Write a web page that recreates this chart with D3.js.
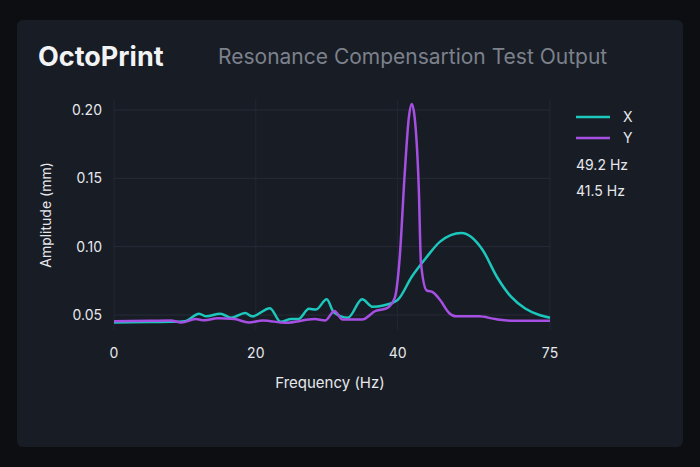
<!DOCTYPE html><html><head><meta charset="utf-8"><script src="https://cdn.jsdelivr.net/npm/d3@7"></script>
<style>body{margin:0;background:#0c0e12;}svg{display:block;font-family:Inter,"Noto Sans",sans-serif;}</style></head><body><svg id="c" width="700" height="467"></svg>
<script>
const xHz=[0,5,8,10,12,13,15,16.5,18.5,19.5,22,23.5,25,26,27.5,28.5,30,31,33,35,36.5,38,40,42,44,46,49,52,54,56,58,60,61.5];
const xAmp=[0.0445,0.0448,0.045,0.0455,0.051,0.049,0.051,0.048,0.0515,0.049,0.055,0.045,0.047,0.047,0.0545,0.054,0.0615,0.052,0.048,0.0615,0.056,0.057,0.061,0.078,0.0917,0.1037,0.110,0.0976,0.078,0.0634,0.0548,0.050,0.048];
const yHz=[0,5,8,9.5,11.5,12.8,14.6,17,19,21,24.2,28.3,29.8,31.1,32.2,35,36.9,38.5,39.6,40.3,41,41.6,42,42.4,43,43.3,44.1,45,46,47.3,48.2,51.5,53.8,56.2,61.5];
const yAmp=[0.0455,0.0458,0.046,0.0445,0.047,0.0462,0.0476,0.047,0.0445,0.046,0.0443,0.047,0.046,0.053,0.0467,0.0467,0.053,0.055,0.0625,0.092,0.153,0.195,0.2044,0.195,0.1415,0.088,0.068,0.0666,0.061,0.0513,0.049,0.049,0.047,0.0458,0.0458];
const xTicks=[0,20,40,61.5], xTickLabels=["0","20","40","75"];
const yTicks=[0.05,0.10,0.15,0.20];
const legend=[{name:"X",color:"#1cc8bd",peak:"49.2 Hz"},{name:"Y",color:"#a64fe3",peak:"41.5 Hz"}];
const svg=d3.select("#c");
svg.append("rect").attr("width",700).attr("height",467).attr("fill","#0c0e12");
svg.append("rect").attr("x",17).attr("y",20).attr("width",666).attr("height",427).attr("rx",6).attr("fill","#181c25");
svg.append("text").attr("x",38).attr("y",66).attr("fill","#f2f3f5").attr("font-size",27).attr("font-weight",700).text("OctoPrint");
svg.append("text").attr("x",218).attr("y",64).attr("fill","#7c818b").attr("font-size",21).text("Resonance Compensartion Test Output");
const x=d3.scaleLinear().domain([0,61.5]).range([114,550]);
const y=d3.scaleLinear().domain([0.05,0.20]).range([315,110]);
const g=svg.append("g");
g.selectAll(".gy").data(yTicks).join("line").attr("x1",114).attr("x2",550).attr("y1",d=>y(d)).attr("y2",d=>y(d)).attr("stroke","#262b36").attr("stroke-width",1);
g.selectAll(".gx").data(xTicks).join("line").attr("x1",d=>x(d)).attr("x2",d=>x(d)).attr("y1",100).attr("y2",330).attr("stroke","#222733").attr("stroke-width",1);
g.selectAll(".ty").data(yTicks).join("text").attr("x",102).attr("y",d=>y(d)+5).attr("text-anchor","end").attr("fill","#e6e8ec").attr("font-size",14).text(d=>d.toFixed(2));
g.selectAll(".tx").data(xTicks).join("text").attr("x",d=>x(d)).attr("y",358).attr("text-anchor","middle").attr("fill","#e6e8ec").attr("font-size",14).text((d,i)=>xTickLabels[i]);
svg.append("text").attr("transform","translate(51,215) rotate(-90)").attr("text-anchor","middle").attr("fill","#e6e8ec").attr("font-size",14).text("Amplitude (mm)");
svg.append("text").attr("x",330).attr("y",388).attr("text-anchor","middle").attr("fill","#e6e8ec").attr("font-size",15).text("Frequency (Hz)");
const line=d3.line().x(d=>x(d[0])).y(d=>y(d[1])).curve(d3.curveMonotoneX);
svg.append("path").attr("d",line(xHz.map((h,i)=>[h,xAmp[i]]))).attr("fill","none").attr("stroke",legend[0].color).attr("stroke-width",2.5);
svg.append("path").attr("d",line(yHz.map((h,i)=>[h,yAmp[i]]))).attr("fill","none").attr("stroke",legend[1].color).attr("stroke-width",2.5);
legend.forEach((l,i)=>{
 svg.append("line").attr("x1",576).attr("x2",610).attr("y1",117+i*21).attr("y2",117+i*21).attr("stroke",l.color).attr("stroke-width",2.5);
 svg.append("text").attr("x",623).attr("y",122+i*21).attr("fill","#e6e8ec").attr("font-size",14).text(l.name);
 svg.append("text").attr("x",576).attr("y",170+i*26).attr("fill","#e6e8ec").attr("font-size",14).text(l.peak);
});
</script></body></html>
